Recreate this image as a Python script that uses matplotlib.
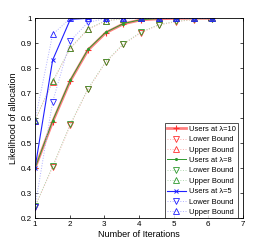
import matplotlib
matplotlib.use("Agg")
import matplotlib.pyplot as plt

plt.rcParams['font.family'] = ['Liberation Sans', 'DejaVu Sans']

# iteration positions of the markers
iters = [1, 1.51, 2.02, 2.53, 3.04, 3.55, 4.06, 4.57, 5.08, 5.59, 6.1]

# lambda = 10
users_10 = [0.40, 0.586, 0.750, 0.873, 0.942, 0.978, 0.994, 0.998, 1.0, 1.0, 1.0]
lower_10 = [0.245, 0.405, 0.573, 0.716, 0.824, 0.896, 0.943, 0.973, 0.987, 0.995, 0.999]
upper_10 = [0.59, 0.745, 0.880, 0.956, 0.990, 0.998, 1.0, 1.0, 1.0, 1.0, 1.0]

# lambda = 8
users_8 = [0.40, 0.590, 0.753, 0.876, 0.944, 0.979, 0.995, 0.999, 1.0, 1.0, 1.0]
lower_8 = [0.247, 0.408, 0.576, 0.719, 0.826, 0.898, 0.945, 0.975, 0.988, 0.996, 0.999]
upper_8 = [0.593, 0.748, 0.882, 0.958, 0.991, 0.998, 1.0, 1.0, 1.0, 1.0, 1.0]

# lambda = 5
users_5 = [0.40, 0.833, 0.996, 1.0, 1.0, 1.0, 1.0, 1.0, 1.0, 1.0, 1.0]
lower_5 = [0.245, 0.666, 0.910, 0.984, 0.999, 1.0, 1.0, 1.0, 1.0, 1.0, 1.0]
upper_5 = [0.59, 0.936, 1.0, 1.0, 1.0, 1.0, 1.0, 1.0, 1.0, 1.0, 1.0]

fig = plt.figure(figsize=(2.69, 2.48), dpi=100)
ax = fig.add_axes([0.130, 0.120, 0.773, 0.806])

ms = 4
ax.plot(iters, users_10, '-', color='#ff8080', lw=2.0, marker='+', ms=4, mew=0.8, mec='#ff3030', label='Users at \u03bb=10')
ax.plot(iters, lower_10, ':', color='#ffb0b0', lw=0.7, marker='v', ms=ms, mfc='none', mec='#ff3030', mew=0.6, label='Lower Bound')
ax.plot(iters, upper_10, ':', color='#ffb0b0', lw=0.7, marker='^', ms=ms, mfc='none', mec='#ff3030', mew=0.6, label='Upper Bound')

ax.plot(iters, users_8, '-', color='#2e9a2e', lw=0.7, marker='.', ms=2.5, label='Users at \u03bb=8')
ax.plot(iters, lower_8, ':', color='#b0d8b0', lw=0.7, marker='v', ms=ms, mfc='none', mec='#2e9a2e', mew=0.6, label='Lower Bound')
ax.plot(iters, upper_8, ':', color='#b0d8b0', lw=0.7, marker='^', ms=ms, mfc='none', mec='#2e9a2e', mew=0.6, label='Upper Bound')

ax.plot(iters, users_5, '-', color='#2020ff', lw=0.8, marker='x', ms=3, mew=0.7, label='Users at \u03bb=5')
ax.plot(iters, lower_5, ':', color='#b0b0ff', lw=0.7, marker='v', ms=ms, mfc='none', mec='#2020ff', mew=0.6, label='Lower Bound')
ax.plot(iters, upper_5, ':', color='#b0b0ff', lw=0.7, marker='^', ms=ms, mfc='none', mec='#2020ff', mew=0.6, label='Upper Bound')

ax.set_xlim(1, 7)
ax.set_ylim(0.2, 1)
ax.set_xticks([1, 2, 3, 4, 5, 6, 7])
ax.set_yticks([0.2, 0.3, 0.4, 0.5, 0.6, 0.7, 0.8, 0.9, 1])
ax.set_yticklabels(['0.2', '0.3', '0.4', '0.5', '0.6', '0.7', '0.8', '0.9', '1'])
ax.tick_params(direction='in', top=True, right=True, length=2, width=0.5, labelsize=5.8, pad=2)
for s in ax.spines.values():
    s.set_linewidth(0.6)

ax.set_xlabel('Number of Iterations', fontsize=6.5, labelpad=1.5)
ax.set_ylabel('Likelihood of allocation', fontsize=6.5, labelpad=2)

leg = ax.legend(loc='lower right', bbox_to_anchor=(0.976, 0.0), borderaxespad=0, fontsize=5.4,
                frameon=True, fancybox=False, edgecolor='black', labelspacing=0.42,
                handlelength=2.5, handletextpad=0.4, borderpad=0.3)
leg.get_frame().set_linewidth(0.6)

fig.savefig('out.png', dpi=100)
